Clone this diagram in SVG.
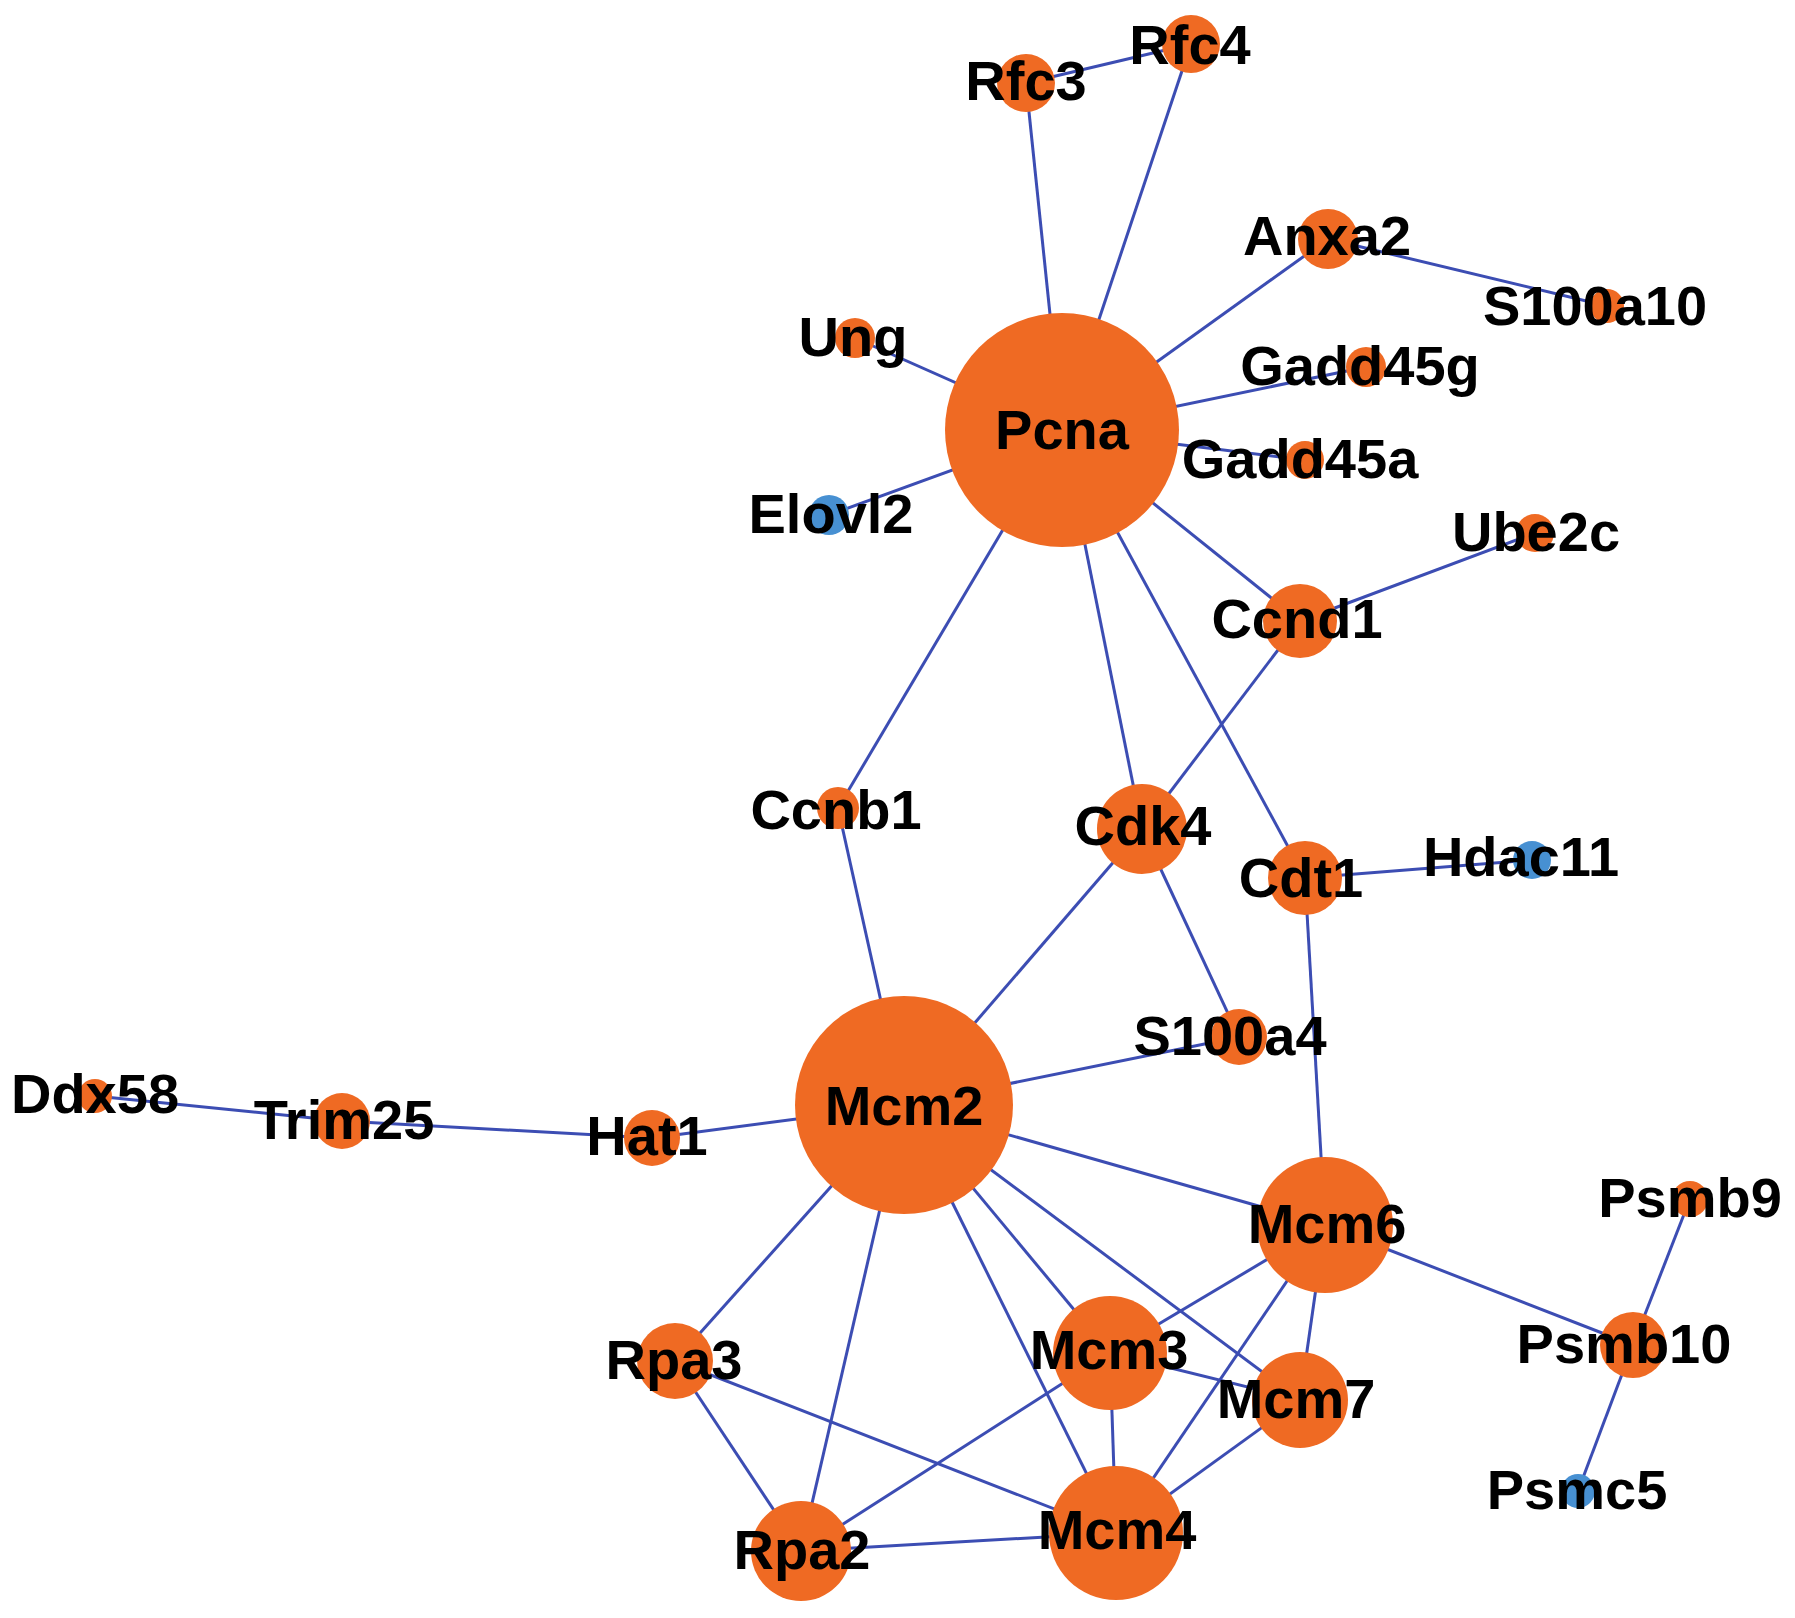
<svg xmlns="http://www.w3.org/2000/svg" width="1795" height="1618" viewBox="0 0 1795 1618">
<style>
.e{stroke:#3c4db3;stroke-width:3;fill:none}
.o{fill:#ef6a23}
.b{fill:#4790d2}
text{font-family:"Liberation Sans",Arial,sans-serif;font-weight:bold;font-size:56px;fill:#000;text-anchor:middle}
</style>
<rect width="1795" height="1618" fill="#fff"/>
<g id="edges">
<line class="e" x1="1026" y1="83" x2="1191" y2="44"/>
<line class="e" x1="1026" y1="83" x2="1062" y2="430"/>
<line class="e" x1="1191" y1="44" x2="1062" y2="430"/>
<line class="e" x1="1328" y1="239" x2="1062" y2="430"/>
<line class="e" x1="1328" y1="239" x2="1607" y2="306"/>
<line class="e" x1="855" y1="338" x2="1062" y2="430"/>
<line class="e" x1="1366" y1="367" x2="1062" y2="430"/>
<line class="e" x1="1305" y1="460" x2="1062" y2="430"/>
<line class="e" x1="829" y1="515" x2="1062" y2="430"/>
<line class="e" x1="1062" y1="430" x2="1300" y2="621"/>
<line class="e" x1="1300" y1="621" x2="1535" y2="533"/>
<line class="e" x1="1300" y1="621" x2="1142" y2="829"/>
<line class="e" x1="1062" y1="430" x2="838" y2="808"/>
<line class="e" x1="1062" y1="430" x2="1142" y2="829"/>
<line class="e" x1="1062" y1="430" x2="1305" y2="878"/>
<line class="e" x1="1305" y1="878" x2="1532" y2="860"/>
<line class="e" x1="1305" y1="878" x2="1325" y2="1225"/>
<line class="e" x1="1142" y1="829" x2="1239" y2="1037"/>
<line class="e" x1="1142" y1="829" x2="904" y2="1105"/>
<line class="e" x1="838" y1="808" x2="904" y2="1105"/>
<line class="e" x1="904" y1="1105" x2="1239" y2="1037"/>
<line class="e" x1="904" y1="1105" x2="652" y2="1138"/>
<line class="e" x1="652" y1="1138" x2="342" y2="1121"/>
<line class="e" x1="342" y1="1121" x2="95" y2="1096"/>
<line class="e" x1="904" y1="1105" x2="1325" y2="1225"/>
<line class="e" x1="904" y1="1105" x2="1110" y2="1353"/>
<line class="e" x1="904" y1="1105" x2="1300" y2="1400"/>
<line class="e" x1="904" y1="1105" x2="1116" y2="1533"/>
<line class="e" x1="904" y1="1105" x2="675" y2="1361"/>
<line class="e" x1="904" y1="1105" x2="801" y2="1551"/>
<line class="e" x1="1325" y1="1225" x2="1110" y2="1353"/>
<line class="e" x1="1325" y1="1225" x2="1116" y2="1533"/>
<line class="e" x1="1325" y1="1225" x2="1300" y2="1400"/>
<line class="e" x1="1325" y1="1225" x2="1633" y2="1345"/>
<line class="e" x1="1633" y1="1345" x2="1690" y2="1199"/>
<line class="e" x1="1633" y1="1345" x2="1578" y2="1491"/>
<line class="e" x1="1110" y1="1353" x2="1300" y2="1400"/>
<line class="e" x1="1110" y1="1353" x2="1116" y2="1533"/>
<line class="e" x1="1110" y1="1353" x2="801" y2="1551"/>
<line class="e" x1="1300" y1="1400" x2="1116" y2="1533"/>
<line class="e" x1="675" y1="1361" x2="801" y2="1551"/>
<line class="e" x1="675" y1="1361" x2="1116" y2="1533"/>
<line class="e" x1="801" y1="1551" x2="1116" y2="1533"/>
</g>
<g id="Pcna"><circle class="o" cx="1062" cy="430" r="117"/><text x="1062" y="449">Pcna</text></g>
<g id="Mcm2"><circle class="o" cx="904" cy="1105" r="109"/><text x="904" y="1125">Mcm2</text></g>
<g id="Rfc3"><circle class="o" cx="1026" cy="83" r="29"/><text x="1026" y="100">Rfc3</text></g>
<g id="Rfc4"><circle class="o" cx="1191" cy="44" r="29"/><text x="1190" y="64">Rfc4</text></g>
<g id="Anxa2"><circle class="o" cx="1328" cy="239" r="30"/><text x="1327" y="255">Anxa2</text></g>
<g id="S100a10"><circle class="o" cx="1607" cy="306" r="17"/><text x="1595" y="325">S100a10</text></g>
<g id="Ung"><circle class="o" cx="855" cy="338" r="20"/><text x="853" y="356">Ung</text></g>
<g id="Gadd45g"><circle class="o" cx="1366" cy="367" r="20"/><text x="1360" y="385">Gadd45g</text></g>
<g id="Gadd45a"><circle class="o" cx="1305" cy="460" r="19"/><text x="1300" y="478">Gadd45a</text></g>
<g id="Elovl2"><circle class="b" cx="829" cy="515" r="20"/><text x="831" y="533">Elovl2</text></g>
<g id="Ube2c"><circle class="o" cx="1535" cy="533" r="19"/><text x="1536" y="551">Ube2c</text></g>
<g id="Ccnd1"><circle class="o" cx="1300" cy="621" r="37"/><text x="1297" y="638">Ccnd1</text></g>
<g id="Ccnb1"><circle class="o" cx="838" cy="808" r="21"/><text x="836" y="829">Ccnb1</text></g>
<g id="Cdk4"><circle class="o" cx="1142" cy="829" r="45"/><text x="1143" y="845">Cdk4</text></g>
<g id="Cdt1"><circle class="o" cx="1305" cy="878" r="37"/><text x="1301" y="897">Cdt1</text></g>
<g id="Hdac11"><circle class="b" cx="1532" cy="860" r="19"/><text x="1521" y="876">Hdac11</text></g>
<g id="S100a4"><circle class="o" cx="1239" cy="1037" r="28"/><text x="1230" y="1055">S100a4</text></g>
<g id="Ddx58"><circle class="o" cx="95" cy="1096" r="17"/><text x="95" y="1113">Ddx58</text></g>
<g id="Trim25"><circle class="o" cx="342" cy="1121" r="28"/><text x="344" y="1139">Trim25</text></g>
<g id="Hat1"><circle class="o" cx="652" cy="1138" r="28"/><text x="647" y="1155">Hat1</text></g>
<g id="Mcm6"><circle class="o" cx="1325" cy="1225" r="68"/><text x="1327" y="1243">Mcm6</text></g>
<g id="Psmb9"><circle class="o" cx="1690" cy="1199" r="18"/><text x="1690" y="1217">Psmb9</text></g>
<g id="Psmb10"><circle class="o" cx="1633" cy="1345" r="33"/><text x="1624" y="1363">Psmb10</text></g>
<g id="Psmc5"><circle class="b" cx="1578" cy="1491" r="17"/><text x="1577" y="1509">Psmc5</text></g>
<g id="Rpa3"><circle class="o" cx="675" cy="1361" r="38"/><text x="674" y="1379">Rpa3</text></g>
<g id="Mcm3"><circle class="o" cx="1110" cy="1353" r="57"/><text x="1109" y="1369">Mcm3</text></g>
<g id="Mcm7"><circle class="o" cx="1300" cy="1400" r="48"/><text x="1296" y="1418">Mcm7</text></g>
<g id="Rpa2"><circle class="o" cx="801" cy="1551" r="50"/><text x="802" y="1569">Rpa2</text></g>
<g id="Mcm4"><circle class="o" cx="1116" cy="1533" r="67"/><text x="1117" y="1549">Mcm4</text></g>
</svg>
